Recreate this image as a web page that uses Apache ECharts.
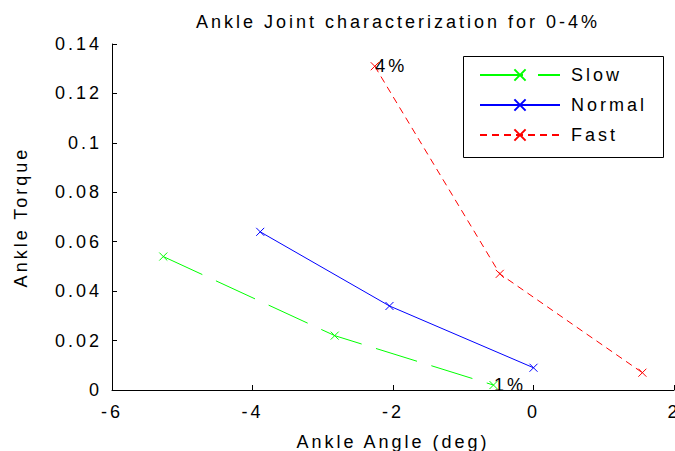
<!DOCTYPE html>
<html>
<head>
<meta charset="utf-8">
<script src="https://cdn.jsdelivr.net/npm/echarts@6/dist/echarts.min.js"></script>
<style>
  html, body { margin: 0; padding: 0; background: #fff; }
  #chart { width: 675px; height: 451px; }
  #chart svg text { letter-spacing: 3px; }
</style>
</head>
<body>
<div id="chart"></div>
<script>
const titleText = 'Ankle Joint characterization for 0-4%';
const xName = 'Ankle Angle (deg)';
const yName = 'Ankle Torque';
const seriesNames = ['Slow', 'Normal', 'Fast'];

const slowX = [-5.27, -2.83, -0.57];
const slowY = [0.054, 0.022, 0.002];
const normalX = [-3.89, -2.05, 0.0];
const normalY = [0.064, 0.034, 0.009];
const fastX = [-2.26, -0.48, 1.55];
const fastY = [0.131, 0.047, 0.007];

const xTicks = { min: -6, max: 2, interval: 2 };
const yTicks = { min: 0, max: 0.14, interval: 0.02 };

// point annotations: [series index, point index, text]
const annotations = [[2, 0, '4%'], [0, 2, '1%']];

const xs = [slowX, normalX, fastX];
const ys = [slowY, normalY, fastY];
const colors = ['#00ff00', '#0000ff', '#ff0000'];
const dashes = [[43, 15], 'solid', [7, 5]];

const crossPath = 'path://M0,0L10,10M10,0L0,10';
const font = 'Liberation Sans, Arial, sans-serif';

const series = seriesNames.map((name, s) => ({
  name: name,
  type: 'line',
  symbol: crossPath,
  symbolSize: 8,
  showAllSymbol: true,
  itemStyle: { color: colors[s], borderColor: colors[s], borderWidth: 1 },
  lineStyle: { color: colors[s], width: 1, type: dashes[s] },
  emphasis: { disabled: true },
  animation: false,
  z: 2,
  data: xs[s].map((x, i) => {
    const item = { value: [x, ys[s][i]] };
    const ann = annotations.find(a => a[0] === s && a[1] === i);
    if (ann) {
      item.label = {
        show: true,
        formatter: ann[2],
        position: 'right',
        distance: -4,
        color: '#000',
        fontSize: 18,
        fontFamily: font
      };
    }
    return item;
  })
}));

const chart = echarts.init(document.getElementById('chart'), null, { renderer: 'svg' });
chart.setOption({
  backgroundColor: '#fff',
  animation: false,
  title: {
    text: titleText,
    left: 393,
    textAlign: 'center',
    top: 8,
    textStyle: { fontSize: 18, fontWeight: 'normal', color: '#000', fontFamily: font }
  },
  grid: { left: 112, right: 1, top: 44, bottom: 61, containLabel: false, outerBoundsMode: 'none' },
  xAxis: {
    type: 'value',
    min: xTicks.min, max: xTicks.max, interval: xTicks.interval,
    name: xName,
    nameLocation: 'middle',
    nameGap: 43,
    nameTextStyle: { fontSize: 18, color: '#000', fontFamily: font },
    axisLine: { show: true, onZero: false, lineStyle: { color: '#000', width: 1 } },
    axisTick: { show: true, inside: true, length: 5, lineStyle: { color: '#000' } },
    axisLabel: { fontSize: 18, color: '#000', margin: 13, fontFamily: font, showMaxLabel: true, showMinLabel: true },
    splitLine: { show: false }
  },
  yAxis: {
    type: 'value',
    min: yTicks.min, max: yTicks.max, interval: yTicks.interval,
    name: yName,
    nameLocation: 'middle',
    nameGap: 82,
    nameRotate: 90,
    nameTextStyle: { fontSize: 18, color: '#000', fontFamily: font },
    axisLine: { show: true, onZero: false, lineStyle: { color: '#000', width: 1 } },
    axisTick: { show: true, inside: true, length: 5, lineStyle: { color: '#000' } },
    axisLabel: { fontSize: 18, color: '#000', margin: 10, fontFamily: font },
    splitLine: { show: false }
  },
  graphic: [{
    type: 'rect',
    z: 10,
    shape: { x: 463.5, y: 56.5, width: 200, height: 101 },
    style: { fill: '#fff', stroke: '#000', lineWidth: 1 }
  }],
  legend: {
    z: 20,
    orient: 'vertical',
    left: 479,
    top: 66,
    padding: 0,
    itemWidth: 80,
    itemHeight: 14,
    itemGap: 12,
    data: seriesNames,
    selectedMode: false,
    textStyle: { fontSize: 18, color: '#000', fontFamily: font, padding: [0, 0, 0, 6] }
  },
  series: series
});
</script>
</body>
</html>
